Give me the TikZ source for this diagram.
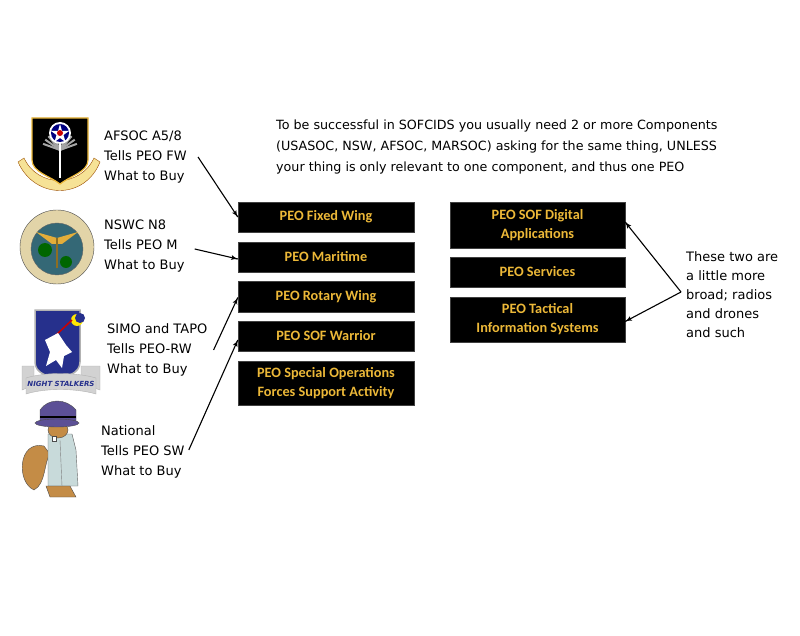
\documentclass[tikz,border=0pt]{standalone}
\usepackage{fontspec}
\setmainfont{DejaVu Sans}
\newfontfamily\calib{Carlito}
\usetikzlibrary{arrows}
\usetikzlibrary{decorations.markings}
\usetikzlibrary{positioning}
\definecolor{peogold}{RGB}{236,184,56}
\definecolor{scrollgold}{RGB}{246,226,150}
\definecolor{sealsand}{RGB}{226,212,168}
\definecolor{sealsea}{RGB}{52,104,118}
\definecolor{stalkblue}{RGB}{38,48,140}
\definecolor{coatblue}{RGB}{200,218,218}
\definecolor{hatpurple}{RGB}{92,80,150}
\definecolor{furbrown}{RGB}{196,140,70}
\tikzset{->/.style = {line width=1.1pt, decoration={markings,
                                  mark=at position 1 with {\arrow[scale=1.1]{latex'}}},
                      postaction={decorate}}}
\tikzset{peo/.style = {draw=gray!50!black, fill=black, text=peogold, align=center, inner sep=0,
                       font=\calib\bfseries\fontsize{14.3}{19}\selectfont}}
\tikzset{tells/.style = {align=left, inner sep=2, font=\fontsize{13}{20}\selectfont}}

\begin{document}
\begin{tikzpicture}[x=1pt, y=-1pt]
      \useasboundingbox (0, 0) rectangle (800, 636);

      % AFSOC crest
      \fill [scrollgold, draw=orange!60!black] (18, 162) .. controls (35, 200) and (85, 200) .. (100, 162)
            -- (94, 158) .. controls (80, 188) and (38, 188) .. (24, 158) -- cycle;
      \fill [black, draw=peogold, line width=1.2] (32, 118) -- (88, 118) -- (88, 160)
            .. controls (88, 172) and (70, 176) .. (60, 184) .. controls (50, 176) and (32, 172) .. (32, 160) -- cycle;
      \foreach \a in {200, 215, 230, 245, 295, 310, 325, 340}
        \draw [gray!70, line width=2] (60, 150) -- ++(\a:18);
      \draw [white, line width=1.5] (60, 140) -- (60, 178);
      \fill [white] (60, 133) circle (11);
      \fill [blue!50!black] (60, 133) circle (9);
      \fill [white] (60, 124) -- (62, 131) -- (69, 131) -- (63.5, 135) -- (65.5, 142) -- (60, 138)
            -- (54.5, 142) -- (56.5, 135) -- (51, 131) -- (58, 131) -- cycle;
      \fill [red!80!black] (60, 133) circle (3);

      % NSWC seal
      \fill [sealsand, draw=black!70] (57, 247) circle (37);
      \fill [sealsea, draw=black!60] (57, 249) circle (26);
      \fill [green!40!black] (45, 250) circle (7);
      \fill [green!40!black] (66, 262) circle (6);
      \fill [peogold!80!brown] (36, 232) -- (57, 238) -- (78, 232) -- (62, 244) -- (52, 244) -- cycle;
      \draw [peogold!60!black, line width=1.5] (57, 238) -- (57, 268);

      % Night Stalkers crest
      \fill [gray!35, draw=gray!60] (22, 366) -- (34, 366) -- (34, 380) -- (81, 380) -- (81, 366) -- (100, 366)
            -- (100, 390) .. controls (80, 382) and (40, 382) .. (22, 390) -- cycle;
      \fill [stalkblue, draw=gray!60, line width=1.5] (35, 310) -- (80, 310) -- (80, 362)
            .. controls (80, 374) and (66, 376) .. (57.5, 380) .. controls (49, 376) and (35, 374) .. (35, 362) -- cycle;
      \fill [yellow!90!orange] (77, 320) circle (6);
      \fill [stalkblue] (80, 318) circle (5);
      \draw [red!80!black, line width=1.5] (55, 336) -- (72, 320);
      \fill [white] (45, 340) -- (58, 333) -- (66, 345) -- (72, 352) -- (64, 356) -- (62, 368)
            -- (56, 360) -- (46, 366) -- (50, 352) -- cycle;
      \fill [gray!35, draw=gray!60] (26, 378) .. controls (45, 372) and (75, 372) .. (96, 378)
            -- (96, 394) .. controls (75, 388) and (45, 388) .. (26, 394) -- cycle;
      \node (stalk) at (61, 384) {\fontsize{7}{7}\selectfont\bfseries\itshape\color{stalkblue}NIGHT STALKERS};

      % squirrel
      \fill [furbrown, draw=black!70] (44, 446) .. controls (18, 440) and (16, 482) .. (34, 490)
            .. controls (46, 484) and (44, 462) .. (50, 454) -- cycle;
      \fill [coatblue, draw=black!60] (48, 434) -- (72, 434) -- (76, 450) -- (78, 486) -- (48, 486) -- cycle;
      \draw [black!50] (60, 440) -- (62, 486);
      \fill [furbrown, draw=black!70] (58, 430) ellipse (10 and 8);
      \fill [white, draw=black!70] (52, 436) rectangle (56, 441);
      \fill [furbrown, draw=black!70] (46, 486) -- (70, 486) -- (76, 497) -- (50, 497) -- cycle;
      \fill [hatpurple, draw=black!70] (40, 410) .. controls (48, 398) and (66, 398) .. (76, 410) -- (76, 422) -- (40, 422) -- cycle;
      \fill [hatpurple, draw=black!70] (57, 423) ellipse (22 and 4);
      \draw [black, line width=2] (40, 417) -- (76, 417);

      % components
      \node [tells, anchor=west] (afsoc) at (102, 157) {AFSOC A5/8\\Tells PEO FW\\What to Buy};
      \node [tells, anchor=west] (nswc) at (102, 246) {NSWC N8\\Tells PEO M\\What to Buy};
      \node [tells, anchor=west] (simo) at (105, 350) {SIMO and TAPO\\Tells PEO-RW\\What to Buy};
      \node [tells, anchor=west] (natl) at (99, 452) {National\\Tells PEO SW\\What to Buy};

      \node [tells, anchor=west, font=\fontsize{12.7}{21}\selectfont] (rule) at (274, 147)
            {To be successful in SOFCIDS you usually need 2 or more Components\\(USASOC, NSW, AFSOC, MARSOC) asking for the same thing, UNLESS\\your thing is only relevant to one component, and thus one PEO};

      % PEOs
      \node [peo, minimum width=176pt, minimum height=30pt] (fw) at (326, 217) {PEO Fixed Wing};
      \node [peo, minimum width=176pt, minimum height=30pt] (mar) at (326, 257) {PEO Maritime};
      \node [peo, minimum width=176pt, minimum height=31pt] (rw) at (326, 296.5) {PEO Rotary Wing};
      \node [peo, minimum width=176pt, minimum height=30pt] (sw) at (326, 336) {PEO SOF Warrior};
      \node [peo, minimum width=176pt, minimum height=44pt] (sofsa) at (326, 383) {PEO Special Operations\\Forces Support Activity};

      \node [peo, minimum width=175pt, minimum height=46pt] (dig) at (537.5, 225) {PEO SOF Digital\\Applications};
      \node [peo, minimum width=175pt, minimum height=30pt] (srv) at (537.5, 272) {PEO Services};
      \node [peo, minimum width=175pt, minimum height=45pt] (tis) at (537.5, 319.5) {PEO Tactical\\Information Systems};

      \node [tells, anchor=west, font=\fontsize{13}{19}\selectfont] (note) at (684, 295)
            {These two are\\a little more\\broad; radios\\and drones\\and such};

      \draw [->] ([xshift=9]afsoc.east) -- (fw.west);
      \draw [->] ([shift={(8, 3)}]nswc.east) -- ([yshift=-2]mar.west);
      \draw [->] ([xshift=4]simo.east) -- ([yshift=-1]rw.west);
      \draw [->] ([shift={(2, -2)}]natl.east) -- ([yshift=-4]sw.west);
      \draw [->] ([shift={(-3, -3)}]note.west) -- ([yshift=3]dig.east);
      \draw [->] ([shift={(-3, -3)}]note.west) -- ([yshift=-2]tis.east);
    \end{tikzpicture}
\end{document}
